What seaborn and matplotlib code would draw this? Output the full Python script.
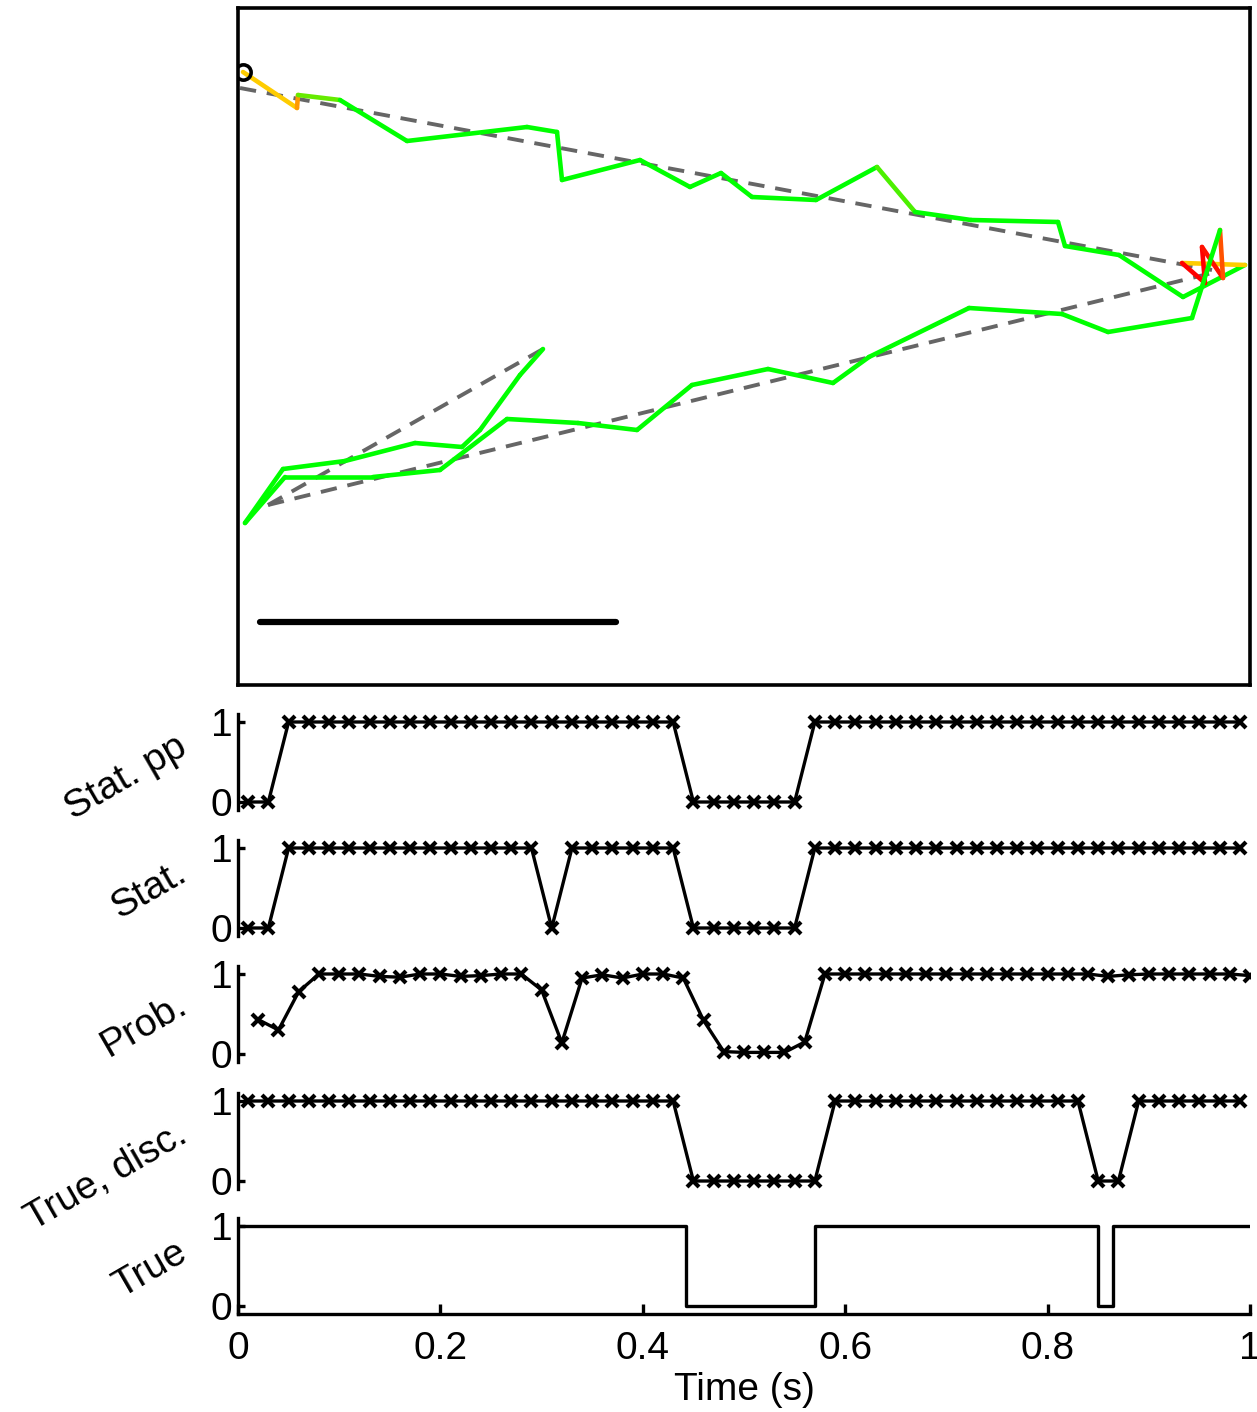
import numpy as np
import pandas as pd
import seaborn as sns
import matplotlib.pyplot as plt
from matplotlib.collections import LineCollection
from matplotlib.colors import LinearSegmentedColormap

# ---------------- top panel: decoded path on the maze ----------------
# positions (arbitrary track units)
traj_x = [5, 59, 60, 102, 169, 289, 319, 324, 402, 452, 483, 514, 578, 639,
          677, 733, 820, 827, 881, 945, 1007, 944, 967, 964, 985, 982, 954,
          870, 824, 731, 631, 595, 530, 454, 399, 340, 269, 202, 135, 47, 7,
          45, 107, 177, 224, 242, 282, 305]
traj_y = [613, 577, 590, 585, 544, 558, 553, 505, 525, 498, 512, 488, 485, 518,
          473, 465, 463, 439, 430, 388, 420, 422, 402, 438, 407, 455, 367,
          353, 371, 377, 328, 302, 316, 300, 255, 262, 266, 215, 208, 208, 162,
          216, 224, 242, 238, 255, 310, 336]
# score of each segment (0 = red, 0.5 = yellow, 1 = green)
seg_score = [0.5, 0.375, 0.8,
             1, 1, 1, 1, 1, 1, 1, 1, 1, 1,
             0.85,
             1, 1, 1, 1, 1, 1,
             0.5, 0.0, 0.0, 0.04, 0.2,
             1, 1, 1, 1, 1, 1, 1, 1, 1, 1, 1, 1, 1, 1, 1, 1, 1, 1, 1, 1, 1, 1]

# linear fits of the three arms
arm_x = [[2, 974], [30, 974], [30, 305]]
arm_y = [[597, 415], [180, 412], [180, 336]]

scalebar_x = [22, 378]
scalebar_y = [63, 63]

# ---------------- bottom panels ----------------
t_bin = [0.01, 0.03, 0.05, 0.07, 0.09, 0.11, 0.13, 0.15, 0.17, 0.19,
         0.21, 0.23, 0.25, 0.27, 0.29, 0.31, 0.33, 0.35, 0.37, 0.39,
         0.41, 0.43, 0.45, 0.47, 0.49, 0.51, 0.53, 0.55, 0.57, 0.59,
         0.61, 0.63, 0.65, 0.67, 0.69, 0.71, 0.73, 0.75, 0.77, 0.79,
         0.81, 0.83, 0.85, 0.87, 0.89, 0.91, 0.93, 0.95, 0.97, 0.99]
stat_pp = [0, 0, 1, 1, 1, 1, 1, 1, 1, 1,
           1, 1, 1, 1, 1, 1, 1, 1, 1, 1,
           1, 1, 0, 0, 0, 0, 0, 0, 1, 1,
           1, 1, 1, 1, 1, 1, 1, 1, 1, 1,
           1, 1, 1, 1, 1, 1, 1, 1, 1, 1]
stat = [0, 0, 1, 1, 1, 1, 1, 1, 1, 1,
        1, 1, 1, 1, 1, 0, 1, 1, 1, 1,
        1, 1, 0, 0, 0, 0, 0, 0, 1, 1,
        1, 1, 1, 1, 1, 1, 1, 1, 1, 1,
        1, 1, 1, 1, 1, 1, 1, 1, 1, 1]
true_disc = [1, 1, 1, 1, 1, 1, 1, 1, 1, 1,
             1, 1, 1, 1, 1, 1, 1, 1, 1, 1,
             1, 1, 0, 0, 0, 0, 0, 0, 0, 1,
             1, 1, 1, 1, 1, 1, 1, 1, 1, 1,
             1, 1, 0, 0, 1, 1, 1, 1, 1, 1]

t_prob = [0.02, 0.04, 0.06, 0.08, 0.10, 0.12, 0.14, 0.16, 0.18, 0.20,
          0.22, 0.24, 0.26, 0.28, 0.30, 0.32, 0.34, 0.36, 0.38, 0.40,
          0.42, 0.44, 0.46, 0.48, 0.50, 0.52, 0.54, 0.56, 0.58, 0.60,
          0.62, 0.64, 0.66, 0.68, 0.70, 0.72, 0.74, 0.76, 0.78, 0.80,
          0.82, 0.84, 0.86, 0.88, 0.90, 0.92, 0.94, 0.96, 0.98, 1.00]
prob = [0.43, 0.30, 0.78, 1.0, 1.0, 1.0, 0.97, 0.96, 1.0, 1.0,
        0.97, 0.98, 1.0, 1.0, 0.80, 0.14, 0.95, 0.99, 0.95, 1.0,
        1.0, 0.95, 0.42, 0.03, 0.02, 0.02, 0.02, 0.15, 1.0, 1.0,
        1.0, 1.0, 1.0, 1.0, 1.0, 1.0, 1.0, 1.0, 1.0, 1.0,
        1.0, 1.0, 0.97, 0.99, 1.0, 1.0, 1.0, 1.0, 1.0, 0.98]

true_t = [0.0, 0.443, 0.570, 0.850, 0.865, 1.0]
true_v = [1, 0, 1, 0, 1, 1]

panel_names = ["Stat. pp", "Stat.", "Prob.", "True, disc.", "True"]

# ---------------- style ----------------
sns.set_style("white")
plt.rcParams["font.family"] = ["Liberation Sans", "DejaVu Sans"]
plt.rcParams["axes.linewidth"] = 2.4
for key in ["text.color", "axes.labelcolor", "xtick.color", "ytick.color",
            "axes.edgecolor"]:
    plt.rcParams[key] = "black"

FS = 28
W, H = 1257, 1412
fig = plt.figure(figsize=(W / 100, H / 100), dpi=100)


def box(l, t, r, b):
    return [l / W, 1 - b / H, (r - l) / W, (b - t) / H]


# top panel
ax = fig.add_axes(box(238, 8, 1250, 685))
for xs, ys in zip(arm_x, arm_y):
    sns.lineplot(x=xs, y=ys, ax=ax, color="#666666", lw=2.8, sort=False,
                 estimator=None, linestyle=(0, (4.2, 2.8)))

cmap = LinearSegmentedColormap.from_list("rg", ["#ff0000", "#ffcc00", "#00ff00"])
pts = np.column_stack([traj_x, traj_y])
segs = np.stack([pts[:-1], pts[1:]], axis=1)
lc = LineCollection(segs, colors=cmap(np.array(seg_score)), linewidths=3.3,
                    capstyle="round", joinstyle="round")
ax.add_collection(lc)
ax.plot(traj_x[0], traj_y[0], "o", mfc="none", mec="k", ms=11, mew=2.6)
sns.lineplot(x=scalebar_x, y=scalebar_y, ax=ax, color="k", lw=4.5, sort=False,
             estimator=None)
ax.set_xlim(0, 1012)
ax.set_ylim(0, 677)
ax.set_xticks([])
ax.set_yticks([])
for s in ax.spines.values():
    s.set_visible(True)
    s.set_color("k")
    s.set_linewidth(2.6)

# bottom panels
tops = [714, 840, 966, 1093, 1218]
label_y = [778, 890, 1025, 1177, 1270]
series = [(t_bin, stat_pp), (t_bin, stat), (t_prob, prob), (t_bin, true_disc)]

for i, top in enumerate(tops):
    a = fig.add_axes(box(238, top, 1250, top + 96))
    if i < 4:
        xs, ys = series[i]
        sns.lineplot(x=xs, y=ys, ax=a, color="k", lw=2.4, marker="x",
                     markersize=8, markeredgewidth=3, markeredgecolor="k",
                     estimator=None)
    else:
        sns.lineplot(x=true_t, y=true_v, ax=a, color="k", lw=2.4,
                     drawstyle="steps-post", estimator=None)
    a.set_xlim(0, 1)
    a.set_ylim(-0.1, 1.1)
    a.set_yticks([0, 1])
    a.set_yticklabels(["0", "1"])
    a.tick_params(axis="y", direction="in", length=5, width=2.4,
                  labelsize=FS, pad=4, left=True)
    for side in ["top", "right"]:
        a.spines[side].set_visible(False)
    if i < 4:
        a.spines["bottom"].set_visible(False)
        a.set_xticks([])
    else:
        a.set_xticks([0, 0.2, 0.4, 0.6, 0.8, 1.0])
        a.set_xticklabels(["0", "0.2", "0.4", "0.6", "0.8", "1"])
        a.tick_params(axis="x", direction="in", length=7, width=2.4,
                      labelsize=FS, pad=12, bottom=True)
        a.set_xlabel("Time (s)", fontsize=FS, labelpad=4)
    a.set_ylabel("")
    fig.text(193 / W, 1 - label_y[i] / H, panel_names[i], rotation=30,
             ha="right", va="center", fontsize=FS)

fig.savefig("out.png", dpi=100)
